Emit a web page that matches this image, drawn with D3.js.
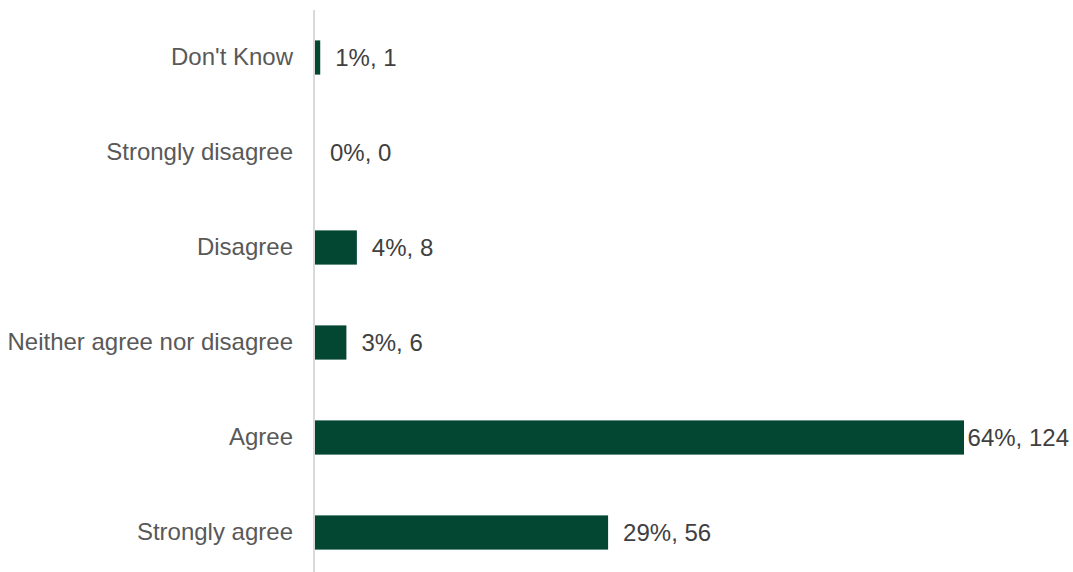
<!DOCTYPE html>
<html>
<head>
<meta charset="utf-8">
<script src="https://cdn.jsdelivr.net/npm/d3@7"></script>
<style>
  html, body { margin: 0; padding: 0; background: #fff; }
  svg { display: block; font-family: "Liberation Sans", Arial, sans-serif; }
</style>
</head>
<body>
<svg id="chart" width="1073" height="572"></svg>
<script>
// Survey responses (top to bottom)
const categories = ["Don't Know", "Strongly disagree", "Disagree", "Neither agree nor disagree", "Agree", "Strongly agree"];
const counts = [1, 0, 8, 6, 124, 56];
const percents = [1, 0, 4, 3, 64, 29];

const width = 1073, height = 572;
const svg = d3.select("#chart");

const x = d3.scaleLinear().domain([0, d3.max(counts)]).range([315, 964]);
const y = d3.scaleBand().domain(categories).range([10, 580]).paddingInner(0.64).paddingOuter(0.32);

const data = categories.map((c, i) => ({ cat: c, count: counts[i], pct: percents[i] }));

// bars
svg.append("g").selectAll("rect").data(data).join("rect")
  .attr("x", x(0))
  .attr("y", d => y(d.cat))
  .attr("width", d => x(d.count) - x(0))
  .attr("height", y.bandwidth())
  .attr("fill", "#034632");

// category axis
const yAxis = d3.axisLeft(y).tickSize(0).tickPadding(21);
const gy = svg.append("g").attr("transform", `translate(${x(0) - 1},0)`).call(yAxis);
gy.select(".domain").remove();
gy.selectAll("text")
  .attr("font-size", 24)
  .attr("fill", "#595959")
  .attr("font-family", "Liberation Sans, Arial, sans-serif");

svg.append("line")
  .attr("x1", x(0) - 1).attr("x2", x(0) - 1)
  .attr("y1", 10).attr("y2", height)
  .attr("stroke", "#d9d9d9").attr("stroke-width", 2);

// value labels
const labels = svg.append("g").selectAll("text").data(data).join("text")
  .attr("y", d => y(d.cat) + y.bandwidth() / 2)
  .attr("dy", "0.35em")
  .attr("font-size", 24)
  .attr("fill", "#404040")
  .text(d => `${d.pct}%, ${d.count}`);

labels.attr("x", function(d) {
  const w = this.getComputedTextLength();
  return Math.min(x(d.count) + 15, width - w - 4);
});
</script>
</body>
</html>
